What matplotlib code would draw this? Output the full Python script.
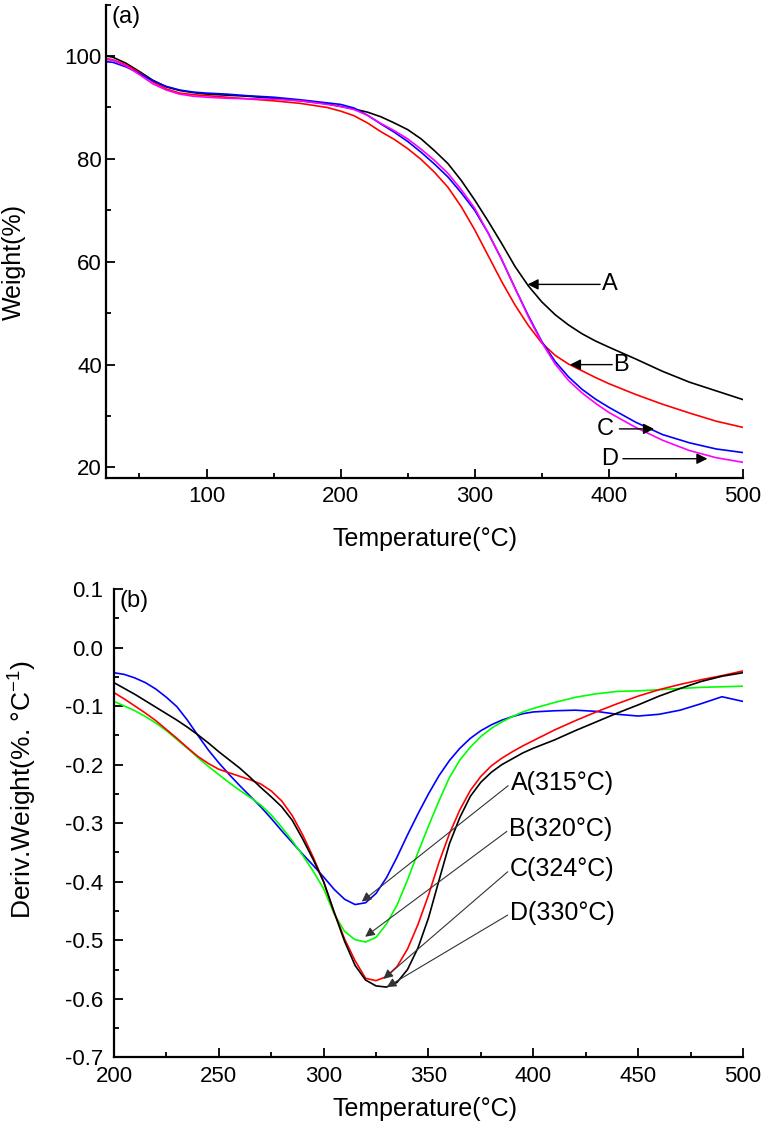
import matplotlib
matplotlib.use("Agg")
import matplotlib.pyplot as plt
from matplotlib.ticker import MultipleLocator

plt.rcParams['font.family'] = ['Liberation Sans', 'DejaVu Sans']
plt.rcParams['mathtext.fontset'] = 'custom'
plt.rcParams['mathtext.rm'] = 'Liberation Sans'
plt.rcParams['mathtext.it'] = 'Liberation Sans:italic'

# ---- (a) TGA weight curves ----
temp_a = [25, 30, 40, 50, 60, 70, 80, 90, 100, 115, 130, 150, 170, 190, 200, 210, 220, 230, 240,
          250, 260, 270, 280, 290, 300, 310, 320, 330, 340, 350, 360, 370, 380, 390, 400, 420,
          440, 460, 480, 500]
weight_A = [100.0, 99.8, 98.6, 97.0, 95.3, 94.0, 93.3, 92.9, 92.6, 92.4, 92.2, 91.8, 91.3, 90.7,
            90.2, 89.7, 89.1, 88.2, 87.0, 85.7, 83.9, 81.6, 79.1, 75.8, 72.0, 67.9, 63.6, 59.1,
            55.3, 52.2, 49.7, 47.7, 46.0, 44.6, 43.4, 41.1, 38.7, 36.6, 34.9, 33.2]
weight_B = [99.5, 99.3, 98.3, 96.8, 95.0, 93.6, 92.8, 92.5, 92.3, 92.0, 91.7, 91.3, 90.8, 90.0,
            89.3, 88.4, 87.0, 85.3, 83.8, 82.0, 79.9, 77.4, 74.5, 70.7, 66.2, 61.2, 56.2, 51.6,
            47.6, 44.2, 41.8, 40.1, 38.8, 37.5, 36.3, 34.2, 32.3, 30.6, 29.0, 27.8]
weight_C = [98.9, 98.8, 97.9, 96.6, 95.2, 94.1, 93.4, 93.0, 92.8, 92.6, 92.3, 92.0, 91.5, 90.9,
            90.6, 89.9, 88.5, 86.8, 85.2, 83.4, 81.3, 79.0, 76.5, 73.4, 70.0, 65.6, 60.5, 54.9,
            49.5, 44.5, 40.6, 37.6, 35.2, 33.3, 31.7, 28.8, 26.4, 24.8, 23.6, 22.9]
weight_D = [99.3, 99.2, 98.1, 96.4, 94.6, 93.4, 92.6, 92.2, 92.0, 91.8, 91.7, 91.6, 91.3, 90.6,
            90.2, 89.6, 88.5, 86.9, 85.5, 83.9, 81.9, 79.7, 77.2, 74.0, 70.4, 65.6, 60.5, 54.9,
            49.3, 44.3, 40.1, 36.9, 34.5, 32.5, 30.7, 27.8, 25.3, 23.3, 21.9, 21.0]

# ---- (b) DTG curves ----
temp_b = [200, 205, 210, 215, 220, 225, 230, 235, 240, 245, 250, 255, 260, 265, 270, 275, 280,
          285, 290, 295, 300, 305, 310, 315, 320, 325, 330, 335, 340, 345, 350, 355, 360, 365,
          370, 375, 380, 385, 390, 395, 400, 410, 420, 430, 440, 450, 460, 470, 480, 490, 500]
dtg_blue = [-0.043, -0.046, -0.052, -0.060, -0.071, -0.085, -0.101, -0.124, -0.150, -0.175, -0.197,
            -0.217, -0.236, -0.254, -0.272, -0.292, -0.313, -0.333, -0.353, -0.372, -0.392, -0.413,
            -0.430, -0.439, -0.436, -0.420, -0.393, -0.358, -0.320, -0.284, -0.250, -0.219, -0.193,
            -0.172, -0.155, -0.142, -0.132, -0.124, -0.118, -0.113, -0.110, -0.108, -0.107, -0.109,
            -0.114, -0.117, -0.114, -0.107, -0.096, -0.084, -0.092]
dtg_green = [-0.092, -0.100, -0.108, -0.118, -0.129, -0.142, -0.157, -0.172, -0.188, -0.203, -0.217,
             -0.231, -0.244, -0.256, -0.269, -0.286, -0.307, -0.330, -0.355, -0.382, -0.412, -0.455,
             -0.485, -0.499, -0.503, -0.495, -0.472, -0.440, -0.397, -0.350, -0.305, -0.262, -0.222,
             -0.192, -0.170, -0.152, -0.138, -0.127, -0.118, -0.110, -0.104, -0.094, -0.085, -0.079,
             -0.075, -0.074, -0.072, -0.070, -0.068, -0.067, -0.066]
dtg_red = [-0.077, -0.088, -0.100, -0.112, -0.125, -0.140, -0.155, -0.171, -0.186, -0.198, -0.208,
           -0.214, -0.220, -0.226, -0.233, -0.245, -0.262, -0.287, -0.320, -0.358, -0.400, -0.452,
           -0.498, -0.535, -0.565, -0.569, -0.562, -0.545, -0.515, -0.473, -0.423, -0.367, -0.318,
           -0.277, -0.244, -0.220, -0.202, -0.189, -0.178, -0.168, -0.159, -0.141, -0.125, -0.110,
           -0.096, -0.083, -0.072, -0.063, -0.055, -0.048, -0.040]
dtg_black = [-0.060, -0.070, -0.080, -0.091, -0.102, -0.113, -0.124, -0.136, -0.149, -0.163, -0.178,
             -0.192, -0.206, -0.222, -0.239, -0.255, -0.272, -0.295, -0.327, -0.362, -0.400, -0.452,
             -0.502, -0.543, -0.568, -0.578, -0.580, -0.572, -0.550, -0.513, -0.462, -0.398, -0.335,
             -0.290, -0.254, -0.230, -0.213, -0.200, -0.190, -0.180, -0.172, -0.158, -0.142, -0.127,
             -0.112, -0.098, -0.083, -0.070, -0.058, -0.049, -0.043]

labels_a = ['A', 'B', 'C', 'D']
labels_b = ['A(315°C)', 'B(320°C)', 'C(324°C)', 'D(330°C)']

fig = plt.figure(figsize=(7.62, 11.34), dpi=100)
ax1 = fig.add_axes([0.139, 0.5787, 0.836, 0.4172])
ax2 = fig.add_axes([0.1496, 0.0676, 0.8254, 0.413])


def style(ax):
    for s in ['top', 'right']:
        ax.spines[s].set_visible(False)
    for s in ['left', 'bottom']:
        ax.spines[s].set_linewidth(1.6)
    ax.tick_params(which='both', direction='in', width=1.3, labelsize=16)
    ax.tick_params(which='major', length=6.5)
    ax.tick_params(which='minor', length=3.8)


# (a)
ax1.plot(temp_a, weight_A, color='black', lw=1.2)
ax1.plot(temp_a, weight_B, color='#ff0000', lw=1.2)
ax1.plot(temp_a, weight_C, color='#0000ff', lw=1.2)
ax1.plot(temp_a, weight_D, color='#ff00ff', lw=1.2)
ax1.set_xlim(25, 500)
ax1.set_ylim(18, 110)
ax1.xaxis.set_major_locator(MultipleLocator(100))
ax1.xaxis.set_minor_locator(MultipleLocator(50))
ax1.yaxis.set_minor_locator(MultipleLocator(10))
ax1.set_yticks([20, 40, 60, 80, 100])
style(ax1)
ax1.tick_params(axis='x', pad=6)
ax1.tick_params(axis='y', pad=3)
ax1.set_xlabel('Temperature(°C)', fontsize=18)
ax1.set_ylabel('Weight(%)', fontsize=18)
ax1.xaxis.set_label_coords(0.501, -0.104)
ax1.yaxis.set_label_coords(-0.125, 0.456)
ax1.text(0.008, 0.997, '(a)', transform=ax1.transAxes, fontsize=17, va='top', ha='left')

arrow_a = dict(arrowstyle='-|>', color='black', lw=1.0, shrinkA=0, shrinkB=0, mutation_scale=16)
# A and B arrows point left, C and D point right
ax1.annotate('', xy=(339.4, 55.6), xytext=(393.5, 55.6), arrowprops=arrow_a)
ax1.text(395.2, 55.6, labels_a[0], fontsize=17, va='center', ha='left')
ax1.annotate('', xy=(371, 40.0), xytext=(402.5, 40.0), arrowprops=arrow_a)
ax1.text(403.5, 40.0, labels_a[1], fontsize=17, va='center', ha='left')
ax1.annotate('', xy=(433.7, 27.5), xytext=(407.9, 27.5), arrowprops=arrow_a)
ax1.text(403.3, 27.5, labels_a[2], fontsize=17, va='center', ha='right')
ax1.annotate('', xy=(473.5, 21.7), xytext=(410.5, 21.7), arrowprops=arrow_a)
ax1.text(406.7, 21.7, labels_a[3], fontsize=17, va='center', ha='right')

# (b)
ax2.plot(temp_b, dtg_blue, color='#0000ff', lw=1.2)
ax2.plot(temp_b, dtg_green, color='#00ff00', lw=1.2)
ax2.plot(temp_b, dtg_red, color='#ff0000', lw=1.2)
ax2.plot(temp_b, dtg_black, color='black', lw=1.2)
ax2.set_xlim(200, 500)
ax2.set_ylim(-0.7, 0.1)
ax2.xaxis.set_major_locator(MultipleLocator(50))
ax2.xaxis.set_minor_locator(MultipleLocator(25))
ax2.yaxis.set_major_locator(MultipleLocator(0.1))
ax2.yaxis.set_minor_locator(MultipleLocator(0.05))
ax2.yaxis.set_major_formatter(plt.FuncFormatter(lambda v, p: '%.1f' % v if abs(v) > 1e-9 else '0.0'))
style(ax2)
ax2.tick_params(axis='x', pad=6)
ax2.tick_params(axis='y', pad=8)
ax2.set_xlabel('Temperature(°C)', fontsize=18)
ax2.set_ylabel('Deriv.Weight(%. °C$^{-1}$)', fontsize=19)
ax2.xaxis.set_label_coords(0.495, -0.085)
ax2.yaxis.set_label_coords(-0.12, 0.571)
ax2.text(0.008, 0.997, '(b)', transform=ax2.transAxes, fontsize=17, va='top', ha='left')

heads_b = [(318.2, -0.434), (319.8, -0.494), (328.5, -0.566), (330.1, -0.580)]
tails_b = [(388.0, -0.236), (387.4, -0.314), (387.8, -0.383), (387.8, -0.457)]
for lab, head, tail in zip(labels_b, heads_b, tails_b):
    ax2.annotate('', xy=head, xytext=tail,
                 arrowprops=dict(arrowstyle='-|>', color='#333333', lw=0.8,
                                 shrinkA=0, shrinkB=0, mutation_scale=14))
    ax2.text(tail[0] + 1.2, tail[1] + 0.004, lab, fontsize=18, va='center', ha='left')

fig.savefig('out.png', dpi=100)
